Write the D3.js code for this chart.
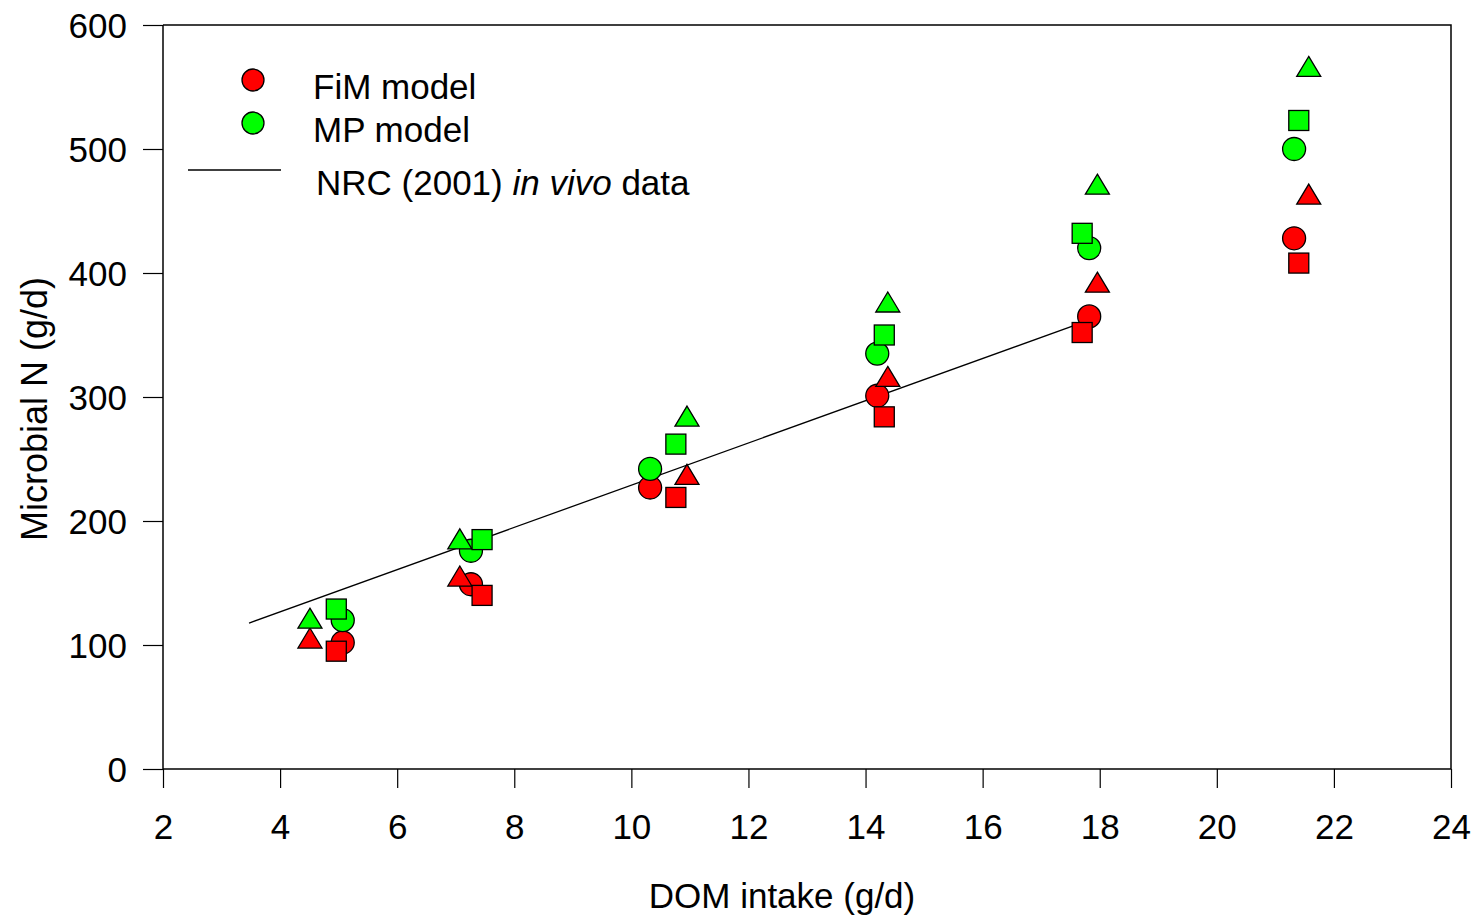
<!DOCTYPE html>
<html>
<head>
<meta charset="utf-8">
<script src="https://cdn.jsdelivr.net/npm/d3@7"></script>
<style>
  html, body { margin: 0; padding: 0; background: #fff; }
  svg { display: block; font-family: "Liberation Sans", Arial, sans-serif; }
</style>
</head>
<body>
<svg id="chart" width="1477" height="919"></svg>
<script>
// DOM intake (g/d) for each diet level, one array per marker shape
const xCircle   = [5.07, 7.26, 10.32, 14.20, 17.82, 21.32];
const xSquare   = [4.96, 7.45, 10.76, 14.32, 17.70, 21.40];
const xTriangle = [4.51, 7.07, 10.95, 14.38, 17.96, 21.57];

// Microbial N (g/d) predicted by the FiM model
const fimCircle   = [102, 149, 227, 301, 365, 428];
const fimSquare   = [95, 140, 219, 284, 352, 408];
const fimTriangle = [104, 154, 236, 315, 391, 462];

// Microbial N (g/d) predicted by the MP model
const mpCircle   = [120, 176, 242, 335, 420, 500];
const mpSquare   = [129, 185, 262, 350, 432, 523];
const mpTriangle = [120, 184, 283, 375, 470, 565];

// NRC (2001) in vivo regression, end points
const nrcX = [3.47, 17.70];
const nrcY = [117.7, 360];

const xTicks = [2, 4, 6, 8, 10, 12, 14, 16, 18, 20, 22, 24];
const yTicks = [0, 100, 200, 300, 400, 500, 600];

const svg = d3.select("#chart");
const plotL = 163, plotR = 1451, plotT = 25, plotB = 769;
const FONT = "35px";

const x = d3.scaleLinear().domain([2, 24]).range([plotL, plotR]);
const y = d3.scaleLinear().domain([0, 600]).range([plotB, plotT]);

const RED = "#ff0000", GREEN = "#00ff00";

// frame (top and right edges)
svg.append("path")
  .attr("d", `M${plotL},${plotT}H${plotR}V${plotB}`)
  .attr("fill", "none").attr("stroke", "#000").attr("stroke-width", 1.5);

// axes
const xAxis = svg.append("g")
  .attr("transform", `translate(0,${plotB})`)
  .call(d3.axisBottom(x).tickValues(xTicks).tickSize(19).tickPadding(26).tickFormat(d3.format("d")));
const yAxis = svg.append("g")
  .attr("transform", `translate(${plotL},0)`)
  .call(d3.axisLeft(y).tickValues(yTicks).tickSize(20).tickPadding(16).tickFormat(d3.format("d")));

[xAxis, yAxis].forEach(g => {
  g.select(".domain").attr("stroke", "#000").attr("stroke-width", 1.5);
  g.selectAll(".tick line").attr("stroke", "#000").attr("stroke-width", 1.2);
  g.selectAll(".tick text")
    .attr("fill", "#000")
    .style("font-family", "'Liberation Sans', Arial, sans-serif")
    .style("font-size", FONT);
});
xAxis.select(".domain").attr("d", `M${plotL},0H${plotR}`);
yAxis.select(".domain").attr("d", `M0,${plotB}V${plotT}`);
yAxis.selectAll(".tick text").attr("dy", "0.35em");

// axis titles
svg.append("text")
  .attr("x", 782).attr("y", 908)
  .attr("text-anchor", "middle")
  .style("font-size", FONT)
  .text("DOM intake (g/d)");
svg.append("text")
  .attr("transform", `translate(47,409) rotate(-90)`)
  .attr("text-anchor", "middle")
  .style("font-size", "36px")
  .text("Microbial N (g/d)");

// NRC regression line
svg.append("line")
  .attr("x1", x(nrcX[0])).attr("y1", y(nrcY[0]))
  .attr("x2", x(nrcX[1])).attr("y2", y(nrcY[1]))
  .attr("stroke", "#000").attr("stroke-width", 1.3);

// marker shapes
const circleR = 11.5, squareS = 20, triW = 24, triH = 20;
function circles(xs, ys, fill) {
  svg.append("g").selectAll("circle").data(xs).join("circle")
    .attr("cx", d => x(d)).attr("cy", (d, i) => y(ys[i]))
    .attr("r", circleR).attr("fill", fill)
    .attr("stroke", "#000").attr("stroke-width", 1.3);
}
function squares(xs, ys, fill) {
  svg.append("g").selectAll("rect").data(xs).join("rect")
    .attr("x", d => x(d) - squareS / 2).attr("y", (d, i) => y(ys[i]) - squareS / 2)
    .attr("width", squareS).attr("height", squareS).attr("fill", fill)
    .attr("stroke", "#000").attr("stroke-width", 1.3);
}
function triangles(xs, ys, fill) {
  svg.append("g").selectAll("path").data(xs).join("path")
    .attr("d", (d, i) => {
      const cx = x(d), cy = y(ys[i]);
      return `M${cx},${cy - triH * 0.6}L${cx + triW / 2},${cy + triH * 0.4}L${cx - triW / 2},${cy + triH * 0.4}Z`;
    })
    .attr("fill", fill).attr("stroke", "#000").attr("stroke-width", 1.3);
}

circles(xCircle, fimCircle, RED);
circles(xCircle, mpCircle, GREEN);
triangles(xTriangle, fimTriangle, RED);
triangles(xTriangle, mpTriangle, GREEN);
squares(xSquare, fimSquare, RED);
squares(xSquare, mpSquare, GREEN);

// legend
const legend = svg.append("g");
legend.append("circle").attr("cx", 253).attr("cy", 80).attr("r", 11)
  .attr("fill", RED).attr("stroke", "#000").attr("stroke-width", 1.3);
legend.append("circle").attr("cx", 253).attr("cy", 123).attr("r", 11)
  .attr("fill", GREEN).attr("stroke", "#000").attr("stroke-width", 1.3);
legend.append("line").attr("x1", 188).attr("x2", 281).attr("y1", 170).attr("y2", 170)
  .attr("stroke", "#000").attr("stroke-width", 1.3);
legend.append("text").attr("x", 313).attr("y", 99).style("font-size", FONT).text("FiM model");
legend.append("text").attr("x", 313).attr("y", 142).style("font-size", FONT).text("MP model");
const nrc = legend.append("text").attr("x", 316).attr("y", 195).style("font-size", FONT);
nrc.append("tspan").text("NRC (2001) ");
nrc.append("tspan").style("font-style", "italic").text("in vivo");
nrc.append("tspan").text(" data");
</script>
</body>
</html>
